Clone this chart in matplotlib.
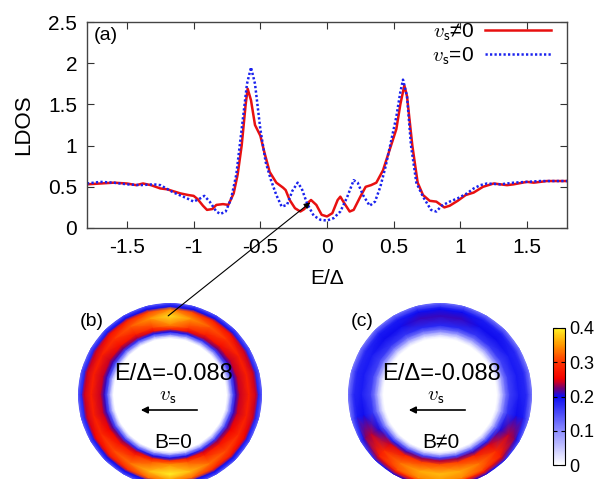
import numpy as np
import matplotlib
matplotlib.use('Agg')
import matplotlib.pyplot as plt
from matplotlib.colors import LinearSegmentedColormap
from matplotlib.patches import ConnectionPatch, Circle, FancyArrowPatch

plt.rcParams['font.family'] = ['Liberation Sans', 'DejaVu Sans']
plt.rcParams['mathtext.fontset'] = 'cm'
plt.rcParams['axes.unicode_minus'] = False

# ---------------- data: panel (a) ----------------
E_red = [-1.8, -1.7, -1.6, -1.5, -1.43, -1.38, -1.32, -1.25, -1.2, -1.1, -1.04, -1.0, -0.97,
         -0.93, -0.9, -0.86, -0.83, -0.78, -0.74, -0.7, -0.67, -0.64, -0.61, -0.595, -0.57,
         -0.54, -0.5, -0.47, -0.43, -0.38, -0.33, -0.31, -0.28, -0.24, -0.2, -0.17, -0.14,
         -0.12, -0.08, -0.04, 0.0, 0.04, 0.08, 0.1, 0.13, 0.17, 0.2, 0.25, 0.29, 0.33, 0.37,
         0.42, 0.48, 0.52, 0.55, 0.58, 0.6, 0.64, 0.68, 0.72, 0.77, 0.82, 0.88, 0.92, 0.98,
         1.04, 1.1, 1.17, 1.25, 1.35, 1.4, 1.5, 1.55, 1.65, 1.8]
LDOS_red = [0.53, 0.54, 0.55, 0.54, 0.52, 0.54, 0.52, 0.48, 0.47, 0.42, 0.40, 0.39, 0.35,
            0.27, 0.22, 0.23, 0.28, 0.29, 0.28, 0.42, 0.65, 1.0, 1.5, 1.69, 1.55,
            1.25, 1.12, 0.92, 0.68, 0.55, 0.49, 0.46, 0.34, 0.24, 0.20, 0.23, 0.31,
            0.34, 0.28, 0.16, 0.14, 0.18, 0.34, 0.38, 0.30, 0.20, 0.22, 0.38, 0.50, 0.52, 0.55,
            0.70, 1.0, 1.2, 1.5, 1.73, 1.6, 1.0, 0.55, 0.40, 0.33, 0.32, 0.25, 0.27, 0.33,
            0.40, 0.43, 0.50, 0.54, 0.52, 0.53, 0.56, 0.55, 0.57, 0.57]

E_blue = [-1.8, -1.7, -1.6, -1.5, -1.4, -1.3, -1.25, -1.15, -1.05, -1.0, -0.95, -0.92, -0.88,
          -0.83, -0.8, -0.76, -0.72, -0.68, -0.64, -0.6, -0.57, -0.54, -0.5, -0.46, -0.42,
          -0.38, -0.34, -0.3, -0.26, -0.22, -0.19, -0.15, -0.1, -0.05, 0.0, 0.05, 0.1, 0.15,
          0.2, 0.23, 0.27, 0.32, 0.36, 0.4, 0.44, 0.48, 0.52, 0.55, 0.57, 0.6, 0.63, 0.67,
          0.72, 0.78, 0.82, 0.86, 0.92, 0.98, 1.05, 1.1, 1.15, 1.2, 1.3, 1.4, 1.5, 1.6, 1.8]
LDOS_blue = [0.54, 0.56, 0.55, 0.53, 0.52, 0.53, 0.52, 0.43, 0.36, 0.32, 0.36, 0.39, 0.32,
             0.20, 0.17, 0.20, 0.35, 0.65, 1.2, 1.75, 1.95, 1.75, 1.2, 0.80, 0.58,
             0.40, 0.26, 0.28, 0.45, 0.55, 0.48, 0.30, 0.15, 0.10, 0.09, 0.12, 0.20, 0.37,
             0.58, 0.55, 0.40, 0.27, 0.32, 0.50, 0.75, 1.05, 1.35, 1.65, 1.80, 1.60, 1.0, 0.55,
             0.38, 0.22, 0.20, 0.27, 0.32, 0.36, 0.42, 0.48, 0.52, 0.54, 0.53, 0.55, 0.56, 0.57, 0.57]

x_ticks = [-1.5, -1, -0.5, 0, 0.5, 1, 1.5]
x_ticklabels = ['-1.5', '-1', '-0.5', '0', '0.5', '1', '1.5']
y_ticks = [0, 0.5, 1, 1.5, 2, 2.5]
y_ticklabels = ['0', '0.5', '1', '1.5', '2', '2.5']

# ---------------- data: rings (b), (c) ----------------
ring_angles_deg = [0, 15, 30, 45, 60, 75, 90, 105, 120, 135, 150, 165,
                   180, 195, 210, 225, 240, 255, 270, 285, 300, 315, 330, 345]
ring_b_peak = [0.28, 0.28, 0.28, 0.30, 0.32, 0.35, 0.39, 0.35, 0.32, 0.30, 0.28, 0.28,
               0.28, 0.28, 0.29, 0.31, 0.33, 0.37, 0.40, 0.37, 0.33, 0.31, 0.29, 0.28]
ring_c_peak = [0.19, 0.19, 0.19, 0.20, 0.20, 0.21, 0.21, 0.21, 0.20, 0.20, 0.19, 0.19,
               0.19, 0.20, 0.24, 0.29, 0.33, 0.36, 0.37, 0.36, 0.33, 0.29, 0.24, 0.20]
ring_radii = [0.62, 0.66, 0.69, 0.72, 0.76, 0.86, 0.935, 0.965, 1.0, 1.05]
ring_b_profile = [0.0, 0.3, 0.55, 0.75, 0.87, 1.0, 0.87, 0.65, 0.5, 0.5]
ring_b_cap = [0.4, 0.12, 0.2, 0.4, 0.4, 0.4, 0.4, 0.2, 0.15, 0.15]
ring_c_profile = [0.0, 0.22, 0.45, 0.65, 0.85, 1.0, 0.95, 0.82, 0.62, 0.62]
ring_c_cap = [0.4, 0.4, 0.4, 0.4, 0.4, 0.4, 0.4, 0.4, 0.4, 0.4]
cbar_ticks = [0, 0.1, 0.2, 0.3, 0.4]
cbar_ticklabels = ['0', '0.1', '0.2', '0.3', '0.4']

# ---------------- figure ----------------
W, H = 594, 479
fig = plt.figure(figsize=(W / 100, H / 100), dpi=100)


def px_axes(x0, y0, x1, y1):
    return fig.add_axes([x0 / W, 1 - y1 / H, (x1 - x0) / W, (y1 - y0) / H])


def ftext(x, y, s, **kw):
    fig.text(x / W, 1 - y / H, s, **kw)


ax = px_axes(87, 22, 567, 228)
ax.plot(E_red, LDOS_red, color='#e81010', lw=1.8, label=r'$v_\mathsf{s}$≠0')
ax.plot(E_blue, LDOS_blue, color='#1a22ee', lw=1.8, ls=(0, (0.9, 0.9)), label=r'$v_\mathsf{s}$=0')
ax.set_xlim(-1.8, 1.8)
ax.set_ylim(0, 2.5)
ax.set_xticks(x_ticks)
ax.set_xticklabels(x_ticklabels)
ax.set_yticks(y_ticks)
ax.set_yticklabels(y_ticklabels)
ax.tick_params(direction='in', top=True, right=True, length=5, labelsize=15, pad=7,
               color='#333333')
for s in ax.spines.values():
    s.set_color('#444444')
    s.set_linewidth(1.0)
ax.set_xlabel('E/Δ', fontsize=15, labelpad=9)
ax.set_ylabel('LDOS', fontsize=16, labelpad=10)
ax.text(0.015, 0.975, '(a)', transform=ax.transAxes, fontsize=14, va='top', ha='left')
ax.legend(loc='upper right', frameon=False, markerfirst=False, fontsize=15,
          handlelength=3.2, handletextpad=0.5, labelspacing=0.15,
          borderaxespad=0.0, bbox_to_anchor=(0.985, 1.045))

# colormap (gnuplot-like palette)
cmap = LinearSegmentedColormap.from_list('pal', [
    (0.0, (1, 1, 1)),
    (0.25, (0.55, 0.55, 1.0)),
    (0.5, (0.05, 0.05, 0.95)),
    (0.56, (0.45, 0.0, 0.45)),
    (0.63, (0.95, 0.0, 0.0)),
    (0.75, (1.0, 0.2, 0.0)),
    (0.88, (1.0, 0.6, 0.0)),
    (1.0, (1.0, 0.95, 0.15))])

th = np.deg2rad(np.append(ring_angles_deg, 360.0))
rr = np.asarray(ring_radii)
T, R = np.meshgrid(th, rr, indexing='ij')
X = R * np.cos(T)
Y = R * np.sin(T)


def ring(axr, peak, profile, cap):
    pk = np.append(peak, peak[0])
    C = np.minimum(np.outer(pk, profile), np.asarray(cap)[None, :])
    m = axr.pcolormesh(X, Y, C, shading='gouraud', cmap=cmap, vmin=0, vmax=0.4)
    m.set_clip_path(Circle((0, 0), 1.0, transform=axr.transData))
    axr.set_xlim(-1, 1)
    axr.set_ylim(-1, 1)
    axr.axis('off')
    return m


ax_b = px_axes(78, 303, 262, 487)
mb = ring(ax_b, ring_b_peak, ring_b_profile, ring_b_cap)
ax_c = px_axes(348, 303, 532, 487)
mc = ring(ax_c, ring_c_peak, ring_c_profile, ring_c_cap)

for cx, blab, tag, tx in [(173, 'B=0', '(b)', 92), (441, 'B≠0', '(c)', 362)]:
    ftext(tx, 322, tag, fontsize=14, ha='center', va='center')
    ftext(cx, 374, 'E/Δ=-0.088', fontsize=17, ha='center', va='center')
    ftext(cx - 5, 396, r'$v_\mathsf{s}$', fontsize=15, ha='center', va='center')
    ftext(cx, 443, blab, fontsize=15, ha='center', va='center')
    fig.add_artist(FancyArrowPatch(
        ((cx + 27) / W, 1 - 410 / H), ((cx - 35) / W, 1 - 410 / H),
        transform=fig.transFigure, arrowstyle='-|>', mutation_scale=10,
        color='black', lw=1.2))

# connector arrow from ring (b) to LDOS curve
con = ConnectionPatch(xyA=(-0.02, 0.86), coordsA=ax_b.transData,
                      xyB=(-0.125, 0.31), coordsB=ax.transData,
                      arrowstyle='-|>', mutation_scale=9, color='black', lw=0.8)
fig.add_artist(con)

cax = px_axes(553, 328, 565, 465)
cb = fig.colorbar(mb, cax=cax, ticks=cbar_ticks)
cb.ax.set_yticklabels(cbar_ticklabels)
cb.ax.tick_params(direction='in', length=3, labelsize=13, pad=3, left=True, right=True)
cb.outline.set_linewidth(0.8)

fig.savefig('out.png', dpi=100)
